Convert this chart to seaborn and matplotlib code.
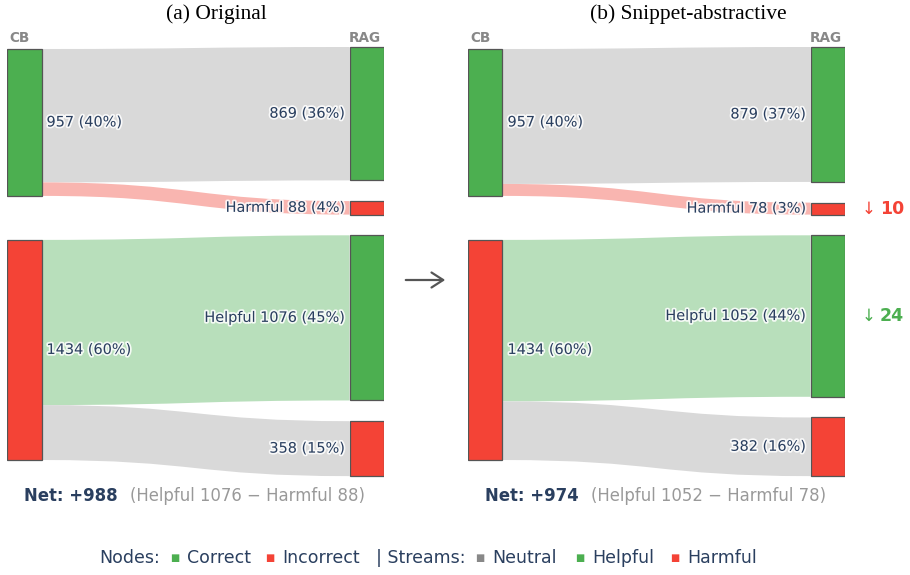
import matplotlib
matplotlib.use("Agg")
import matplotlib.pyplot as plt
import seaborn as sns
from matplotlib.path import Path
from matplotlib.patches import PathPatch, Rectangle, FancyArrowPatch
import matplotlib.patheffects as pe

sns.set_theme(style="white")
plt.rcParams['font.family'] = ['DejaVu Sans']

# data: closed-book (CB) answer correctness -> RAG answer correctness
panels = ["(a) Original", "(b) Snippet-abstractive"]
cb_correct = [957, 957]
cb_incorrect = [1434, 1434]
stay_correct = [869, 879]      # correct -> correct (neutral)
harmful = [88, 78]             # correct -> incorrect
helpful = [1076, 1052]         # incorrect -> correct
stay_incorrect = [358, 382]    # incorrect -> incorrect (neutral)

GREEN = "#4caf50"
RED = "#f44336"
FLOW_GRAY = "#d9d9d9"
FLOW_GREEN = "#b8dfbb"
FLOW_RED = "#f9b5b0"
TXT = "#2a3f5f"
EDGE = "#555555"

W, H = 910, 575
fig = plt.figure(figsize=(W / 100, H / 100), dpi=100)
bg = fig.add_axes([0, 0, 1, 1])
bg.set_xlim(0, W)
bg.set_ylim(H, 0)
bg.axis('off')

# layout
PX = 0.1535           # pixels per question
panel_left = [7, 468]
title_x = [216, 688]
panel_w = 377
node_w = 34.5
ax_top, ax_bot = 40, 482
right_top = 47
left_drop = 2 / PX
gap_left = 44 / PX
gap_right = 20.7 / PX

halo = [pe.withStroke(linewidth=2.5, foreground='white', alpha=0.85)]


def band(ax, x0, x1, a0, a1, b0, b1, color):
    xm = (x0 + x1) / 2
    verts = [(x0, a0), (xm, a0), (xm, b0), (x1, b0),
             (x1, b1), (xm, b1), (xm, a1), (x0, a1), (x0, a0)]
    codes = [Path.MOVETO, Path.CURVE4, Path.CURVE4, Path.CURVE4,
             Path.LINETO, Path.CURVE4, Path.CURVE4, Path.CURVE4, Path.CLOSEPOLY]
    ax.add_patch(PathPatch(Path(verts, codes), facecolor=color, edgecolor='none', zorder=1))


def seq_text(x, y, pieces, size):
    r = fig.canvas.get_renderer()
    for s, color, weight, fs, g in pieces:
        t = bg.text(x, y, s, color=color, fontsize=fs if fs else size, fontweight=weight,
                    ha='left', va='center')
        bb = t.get_window_extent(renderer=r)
        x += bb.width + g


for i in range(2):
    ax = fig.add_axes([panel_left[i] / W, 1 - ax_bot / H, panel_w / W, (ax_bot - ax_top) / H])
    ax.set_xlim(0, panel_w)
    ax.set_ylim((ax_bot - right_top) / PX, -(right_top - ax_top) / PX)
    ax.axis('off')
    total = cb_correct[i] + cb_incorrect[i]

    # left nodes
    lvals = [cb_correct[i], cb_incorrect[i]]
    lcols = [GREEN, RED]
    lpos = []
    y = left_drop
    for v in lvals:
        lpos.append((y, y + v))
        y += v + gap_left

    # right nodes
    rvals = [stay_correct[i], harmful[i], helpful[i], stay_incorrect[i]]
    rcols = [GREEN, RED, GREEN, RED]
    rpre = ["", "Harmful ", "Helpful ", ""]
    rpos = []
    y = 0
    for v in rvals:
        rpos.append((y, y + v))
        y += v + gap_right

    # streams
    links = [(0, 0, FLOW_GRAY), (0, 1, FLOW_RED), (1, 2, FLOW_GREEN), (1, 3, FLOW_GRAY)]
    lcur = [p[0] for p in lpos]
    for src, dst, col in links:
        v = rvals[dst]
        a0 = lcur[src]
        a1 = a0 + v
        lcur[src] = a1
        band(ax, node_w, panel_w - node_w, a0, a1, rpos[dst][0], rpos[dst][1], col)

    for (y0, y1), col, v in zip(lpos, lcols, lvals):
        ax.add_patch(Rectangle((0, y0), node_w, y1 - y0, facecolor=col, edgecolor=EDGE,
                               lw=0.9, zorder=2))
        ax.annotate(f"{v} ({round(100 * v / total)}%)", (node_w, (y0 + y1) / 2),
                    xytext=(5, 0), textcoords='offset pixels', ha='left', va='center',
                    fontsize=10.4, color=TXT, path_effects=halo, zorder=3)

    for (y0, y1), col, v, pre in zip(rpos, rcols, rvals, rpre):
        ax.add_patch(Rectangle((panel_w - node_w, y0), node_w, y1 - y0, facecolor=col,
                               edgecolor=EDGE, lw=0.9, zorder=2))
        ax.annotate(f"{pre}{v} ({round(100 * v / total)}%)", (panel_w - node_w, (y0 + y1) / 2),
                    xytext=(-5, 0), textcoords='offset pixels', ha='right', va='center',
                    fontsize=10.4, color=TXT, path_effects=halo, zorder=3)

    # change markers on the second panel
    if i == 1:
        for idx, delta, col in [(1, harmful[0] - harmful[1], RED),
                                (2, helpful[0] - helpful[1], GREEN)]:
            yc = sum(rpos[idx]) / 2
            ax.annotate("↓", (panel_w, yc), xytext=(17, 0), textcoords='offset pixels',
                        ha='left', va='center', fontsize=12, color=col,
                        annotation_clip=False)
            ax.annotate(f"{delta}", (panel_w, yc), xytext=(35, 0), textcoords='offset pixels',
                        ha='left', va='center', fontsize=12.5, color=col, fontweight='bold',
                        annotation_clip=False)

    # titles and column headers
    bg.text(title_x[i], 14, panels[i], family='Liberation Serif', fontsize=15.5,
            ha='center', va='center', color='black')
    bg.text(panel_left[i] + 13, 38, "CB", fontsize=9.8, fontweight='bold', color='#888888',
            ha='center', va='center')
    bg.text(panel_left[i] + 358, 38, "RAG", fontsize=9.8, fontweight='bold', color='#888888',
            ha='center', va='center')

    net = helpful[i] - harmful[i]
    seq_text(panel_left[i] + 17, 496,
             [(f"Net: +{net}", TXT, 'bold', None, 12),
              (f"(Helpful {helpful[i]} \u2212 Harmful {harmful[i]})", '#999999', 'normal', None, 0)],
             11.9)

# arrow between panels
bg.add_patch(FancyArrowPatch((403, 280), (448, 280), arrowstyle='->,head_length=0.7,head_width=0.45',
                             color='#555555', lw=1.6, mutation_scale=12))

# legend line
seq_text(99, 558,
         [("Nodes:", TXT, 'normal', None, 10),
          ("■", GREEN, 'normal', 7, 8),
          ("Correct", TXT, 'normal', None, 14),
          ("■", RED, 'normal', 7, 8),
          ("Incorrect", TXT, 'normal', None, 16),
          ("| Streams:", TXT, 'normal', None, 10),
          ("■", "#888888", 'normal', 7, 8),
          ("Neutral", TXT, 'normal', None, 18),
          ("■", GREEN, 'normal', 7, 8),
          ("Helpful", TXT, 'normal', None, 16),
          ("■", RED, 'normal', 7, 8),
          ("Harmful", TXT, 'normal', None, 0)],
         12.5)

fig.savefig("out.png", dpi=100)
